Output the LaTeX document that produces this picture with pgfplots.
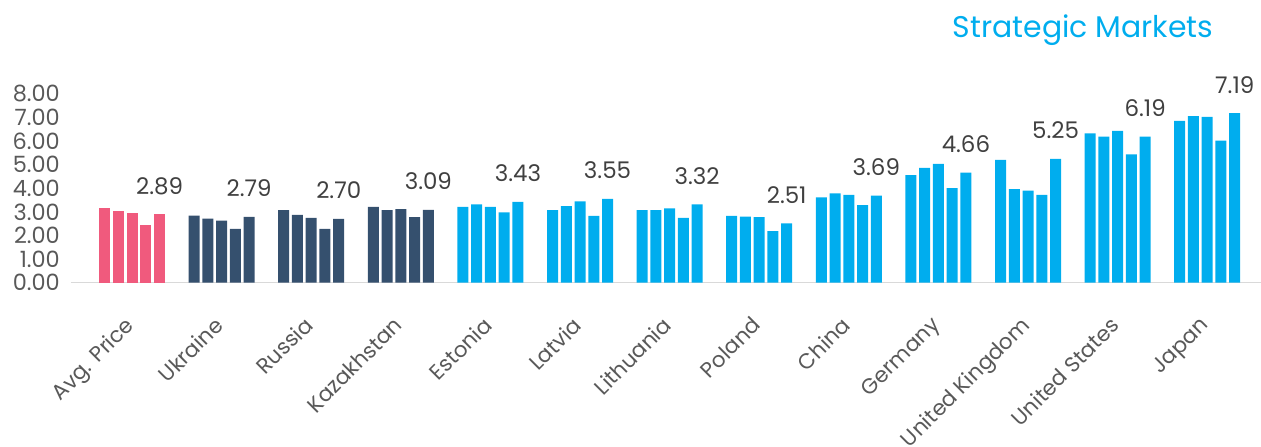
\documentclass[border=0pt]{standalone}
\usepackage{pgfplots}
\pgfplotsset{compat=1.18}
\usepackage{pgfplotstable}
\usepackage{fontspec}
\setmainfont{Poppins}
\definecolor{cPink}{HTML}{F05A7D}
\definecolor{cNavy}{HTML}{35506E}
\definecolor{cCyan}{HTML}{00ADEE}
\definecolor{tickgray}{HTML}{595959}
\definecolor{labgray}{HTML}{404040}

\pgfplotstableread{
x a b c d e
0 3.17 3.04 2.96 2.45 2.89
}\pinktab
\pgfplotstableread{
x a b c d e
1 2.84 2.71 2.63 2.28 2.79
2 3.08 2.87 2.75 2.28 2.70
3 3.21 3.08 3.12 2.78 3.09
}\navytab
\pgfplotstableread{
x a b c d e
4 3.21 3.32 3.21 2.98 3.43
5 3.08 3.25 3.45 2.83 3.55
6 3.08 3.08 3.15 2.75 3.32
7 2.83 2.80 2.78 2.19 2.51
8 3.62 3.79 3.72 3.29 3.69
9 4.56 4.87 5.04 4.01 4.66
10 5.20 3.96 3.90 3.72 5.25
11 6.33 6.19 6.43 5.44 6.19
12 6.86 7.06 7.03 6.02 7.19
}\cyantab

\newcommand\grp[2]{%
 \addplot[fill=#2, draw=none, bar shift=-27.5bp] table[x=x,y=a]{#1};
 \addplot[fill=#2, draw=none, bar shift=-13.75bp] table[x=x,y=b]{#1};
 \addplot[fill=#2, draw=none, bar shift=0bp] table[x=x,y=c]{#1};
 \addplot[fill=#2, draw=none, bar shift=13.75bp] table[x=x,y=d]{#1};
 \addplot[fill=#2, draw=none, bar shift=27.5bp,
   nodes near coords={\pgfmathprintnumber[fixed,fixed zerofill,precision=2,assume math mode=true]{\pgfplotspointmeta}},
   point meta=y,
   every node near coord/.append style={anchor=base, yshift=20bp, inner sep=0pt, text=labgray, font=\fontsize{23}{26}\selectfont}]
   table[x=x,y=e]{#1};
}

\begin{document}
\begin{tikzpicture}
\begin{axis}[
  ybar, bar width=11bp,
  x=89.6bp, y=23.6bp,
  xmin=-0.681, xmax=12.6, ymin=0, ymax=8,
  clip=false,
  axis x line=bottom, axis y line=left,
  x axis line style={draw=black!15, line width=1.5bp, -},
  y axis line style={draw=none},
  major tick length=0pt,
  xtick={0,...,12},
  xticklabels={Avg. Price, Ukraine, Russia, Kazakhstan, Estonia, Latvia, Lithuania, Poland, China, Germany, United Kingdom, United States, Japan},
  xticklabel style={rotate=45, anchor=north east, text=tickgray, font=\fontsize{21.5}{24}\selectfont, inner sep=0pt, yshift=-17bp, xshift=-29bp},
  ytick={0,1,...,8},
  yticklabel style={/pgf/number format/fixed, /pgf/number format/fixed zerofill, /pgf/number format/precision=2, /pgf/number format/assume math mode=true},
  yticklabel style={text=tickgray, font=\fontsize{22.5}{24}\selectfont, inner sep=0pt, xshift=-11bp, anchor=east},
]
\grp{\pinktab}{cPink}
\grp{\navytab}{cNavy}
\grp{\cyantab}{cCyan}
\node[anchor=base east, inner sep=0pt, text=cCyan, font=\fontsize{30}{34}\selectfont] at (axis cs:12.07,10.4) {Strategic Markets};
\end{axis}
\pgfresetboundingbox
\path[use as bounding box] (-71bp,-164.3bp) rectangle (1190bp,282.7bp);
\end{tikzpicture}
\end{document}
